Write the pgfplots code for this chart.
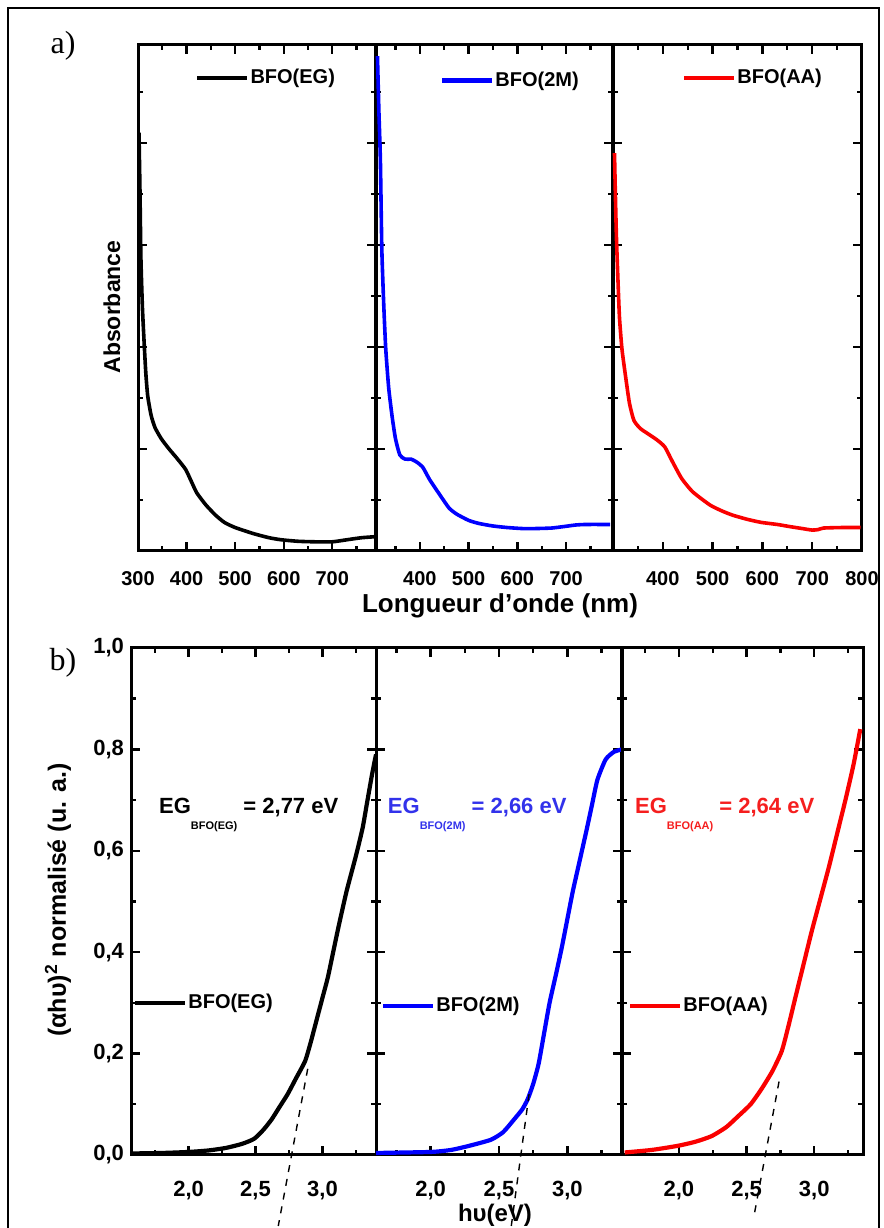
\documentclass[border=0pt]{standalone}
\usepackage{pgfplots}
\pgfplotsset{compat=1.18}
\usepackage{fontspec}
\setmainfont{Liberation Sans}
\newfontfamily\panelfont{Liberation Serif}

\definecolor{bfoblue}{RGB}{0,0,255}
\definecolor{bfored}{RGB}{250,0,0}
\definecolor{egblue}{RGB}{50,50,235}
\definecolor{egred}{RGB}{245,30,30}

\newcommand\tickfont{\bfseries\fontsize{10}{12}\selectfont}
\newcommand\legfont{\bfseries\fontsize{10}{12}\selectfont}
\newcommand\labfont{\bfseries\fontsize{12.5}{14}\selectfont}
\newcommand\egfont{\bfseries\fontsize{11}{13}\selectfont}
\newcommand\subfont{\bfseries\fontsize{5.5}{6}\selectfont}

\pgfplotsset{
  panel/.style={
    scale only axis, anchor=south west, clip=false,
    axis line style={line width=1.5pt},
    tick style={black, line width=1.2pt},
    tick align=inside, xtick pos=both, ytick pos=both,
    major tick length=4.5pt, minor tick length=2.5pt,
    tick label style={font=\tickfont},
    /pgf/number format/assume math mode=true,
    legend style={draw=none, fill=none, anchor=west, font=\legfont,
      inner sep=0pt, outer sep=0pt, nodes={inner sep=0.5pt},
      /tikz/every even column/.append style={column sep=0pt}},
    legend image code/.code={\draw[##1, line width=2.2pt] (0pt,0pt) -- (25pt,0pt);},
  },
  uvpanel/.style={panel, width=#1, height=253pt,
    ymin=0, ymax=4.96, ytick={1,2,3,4}, minor ytick={0.5,1.5,2.5,3.5,4.5},
    yticklabels={}, xticklabel shift=6.5pt},
  gappanel/.style={panel, width=#1, height=253.5pt,
    ymin=0, ymax=1, ytick={0,0.2,0.4,0.6,0.8,1.0},
    minor ytick={0.1,0.3,0.5,0.7,0.9},
    xtick={2.0,2.5,3.0}, minor xtick={1.75,2.25,2.75,3.25},
    xticklabel shift=9.5pt,
    tick label style={font=\bfseries\fontsize{11}{12}\selectfont},
    /pgf/number format/.cd, fixed, fixed zerofill, precision=1, use comma},
}

\begin{document}
\begin{tikzpicture}[x=0.5pt, y=0.5pt]
\path[use as bounding box] (0,0) rectangle (884,1228);
\draw[line width=1pt] (8,-10) -- (8,1220) -- (879,1220) -- (879,-10);

% ---------- a) absorbance spectra ----------
\begin{axis}[uvpanel=119pt, at={(69pt,338.5pt)},
  xmin=300, xmax=790, xtick={300,400,500,600,700},
  minor xtick={350,450,550,650,750},
  legend style={at={(rel axis cs:0.24,0.935)}}]
\addplot[black, line width=1.8pt, smooth, tension=0.35] coordinates {
 (302,4.10) (304,3.55) (306,2.87) (309,2.40) (312,2.10) (316,1.75)
 (320,1.52) (327,1.33) (335,1.21) (348,1.10) (364,1.00) (380,0.91)
 (398,0.80) (410,0.68) (421,0.57) (440,0.45) (460,0.35) (478,0.28)
 (500,0.23) (538,0.17) (570,0.13) (595,0.11) (630,0.095) (665,0.09)
 (700,0.09) (730,0.11) (760,0.13) (788,0.14)};
\addlegendentry{BFO(EG)}
\end{axis}

\begin{axis}[uvpanel=118.5pt, at={(188pt,338.5pt)},
  xmin=310, xmax=796, xtick={400,500,600,700},
  minor xtick={350,450,550,650,750},
  legend style={at={(rel axis cs:0.27,0.93)}}]
\addplot[bfoblue, line width=1.8pt, smooth, tension=0.35] coordinates {
 (313,4.85) (316,4.30) (319,3.83) (322,2.95) (326,2.40) (330,1.98)
 (336,1.60) (343,1.32) (350,1.10) (359,0.94) (370,0.90) (382,0.90)
 (394,0.87) (406,0.82) (420,0.70) (441,0.55) (460,0.42) (476,0.36)
 (500,0.30) (521,0.27) (550,0.245) (579,0.23) (610,0.22) (637,0.22)
 (670,0.225) (696,0.24) (720,0.255) (741,0.26) (790,0.26)};
\addlegendentry{BFO(2M)}
\end{axis}

\begin{axis}[uvpanel=124.5pt, at={(306.5pt,338.5pt)},
  xmin=300, xmax=800, xtick={400,500,600,700,800},
  minor xtick={350,450,550,650,750},
  legend style={at={(rel axis cs:0.277,0.935)}}]
\addplot[bfored, line width=1.8pt, smooth, tension=0.35] coordinates {
 (303,3.90) (305,3.45) (307,3.06) (310,2.65) (313,2.29) (318,1.98)
 (325,1.72) (333,1.45) (342,1.28) (355,1.20) (370,1.15) (388,1.09)
 (404,1.02) (420,0.87) (438,0.71) (460,0.58) (495,0.45) (520,0.39)
 (541,0.35) (570,0.31) (598,0.28) (630,0.26) (654,0.24) (680,0.22)
 (700,0.205) (712,0.21) (723,0.225) (760,0.23) (797,0.23)};
\addlegendentry{BFO(AA)}
\end{axis}

% ---------- b) Tauc plots ----------
\begin{axis}[gappanel=122.5pt, at={(65.5pt,36.5pt)},
  xmin=1.57, xmax=3.40,
  legend style={at={(rel axis cs:0.008,0.30)}}]
\addplot[black, line width=2.1pt, smooth, tension=0.35] coordinates {
 (1.57,0.003) (1.80,0.004) (2.00,0.006) (2.15,0.009) (2.28,0.014)
 (2.40,0.022) (2.49,0.032) (2.56,0.05) (2.62,0.07) (2.68,0.095)
 (2.74,0.12) (2.80,0.15) (2.87,0.185) (2.91,0.22) (2.95,0.26)
 (3.00,0.31) (3.04,0.35) (3.08,0.40) (3.12,0.45) (3.18,0.52)
 (3.25,0.59) (3.30,0.645) (3.33,0.69) (3.37,0.75) (3.40,0.79)};
\addlegendentry{BFO(EG)}
\addplot[black, line width=0.7pt, dash pattern=on 3.5pt off 3.5pt, forget plot]
  coordinates {(2.89,0.17) (2.67,-0.14)};
\node[anchor=west, font=\egfont] at (rel axis cs:0.086,0.67)
  {EG\raisebox{-1.4ex}{\subfont BFO(EG)} = 2,77 eV};
\end{axis}

\begin{axis}[gappanel=123pt, at={(188pt,36.5pt)},
  xmin=1.60, xmax=3.40, yticklabels={},
  legend style={at={(rel axis cs:0.02,0.294)}}]
\addplot[bfoblue, line width=2.1pt, smooth, tension=0.35] coordinates {
 (1.60,0.004) (2.00,0.006) (2.15,0.010) (2.28,0.018) (2.44,0.03)
 (2.53,0.045) (2.61,0.07) (2.67,0.09) (2.71,0.11) (2.75,0.14)
 (2.79,0.18) (2.83,0.24) (2.87,0.30) (2.92,0.36) (2.96,0.41)
 (3.00,0.465) (3.04,0.52) (3.09,0.58) (3.14,0.64) (3.18,0.69)
 (3.22,0.74) (3.28,0.78) (3.34,0.795) (3.40,0.80)};
\addlegendentry{BFO(2M)}
\addplot[black, line width=0.7pt, dash pattern=on 3.5pt off 3.5pt, forget plot]
  coordinates {(2.72,0.12) (2.59,-0.14)};
\node[anchor=west, font=\egfont, text=egblue] at (rel axis cs:0.02,0.67)
  {EG\raisebox{-1.4ex}{\subfont BFO(2M)} = 2,66 eV};
\end{axis}

\begin{axis}[gappanel=120.5pt, at={(311pt,36.5pt)},
  xmin=1.58, xmax=3.36, yticklabels={},
  legend style={at={(rel axis cs:0.025,0.294)}}]
\addplot[bfored, line width=2.1pt, smooth, tension=0.35] coordinates {
 (1.60,0.005) (1.80,0.010) (1.99,0.018) (2.12,0.026) (2.24,0.037)
 (2.35,0.055) (2.44,0.077) (2.53,0.10) (2.61,0.13) (2.69,0.165)
 (2.76,0.205) (2.81,0.255) (2.86,0.31) (2.92,0.375) (2.98,0.44)
 (3.05,0.51) (3.11,0.57) (3.17,0.635) (3.23,0.70) (3.29,0.77)
 (3.34,0.84)};
\addlegendentry{BFO(AA)}
\addplot[black, line width=0.7pt, dash pattern=on 3.5pt off 3.5pt, forget plot]
  coordinates {(2.74,0.145) (2.555,-0.12)};
\node[anchor=west, font=\egfont, text=egred] at (rel axis cs:0.025,0.67)
  {EG\raisebox{-1.4ex}{\subfont BFO(AA)} = 2,64 eV};
\end{axis}

% ---------- titles and panel marks ----------
\node[font=\bfseries\fontsize{11.5}{13}\selectfont, rotate=90] at (112,921) {Absorbance};
\node[font=\bfseries\fontsize{13}{15}\selectfont] at (500,622) {Longueur d'onde (nm)};
\node[font=\labfont, rotate=90] at (58,328) {(αhυ)\textsuperscript{2} normalisé (u. a.)};
\node[font=\bfseries\fontsize{12}{13}\selectfont, inner sep=1pt] at (495,13) {hυ(eV)};
\node[font=\panelfont\fontsize{16}{18}\selectfont] at (63,1182) {a)};
\node[font=\panelfont\fontsize{16}{18}\selectfont] at (63,565) {b)};
\end{tikzpicture}
\end{document}
